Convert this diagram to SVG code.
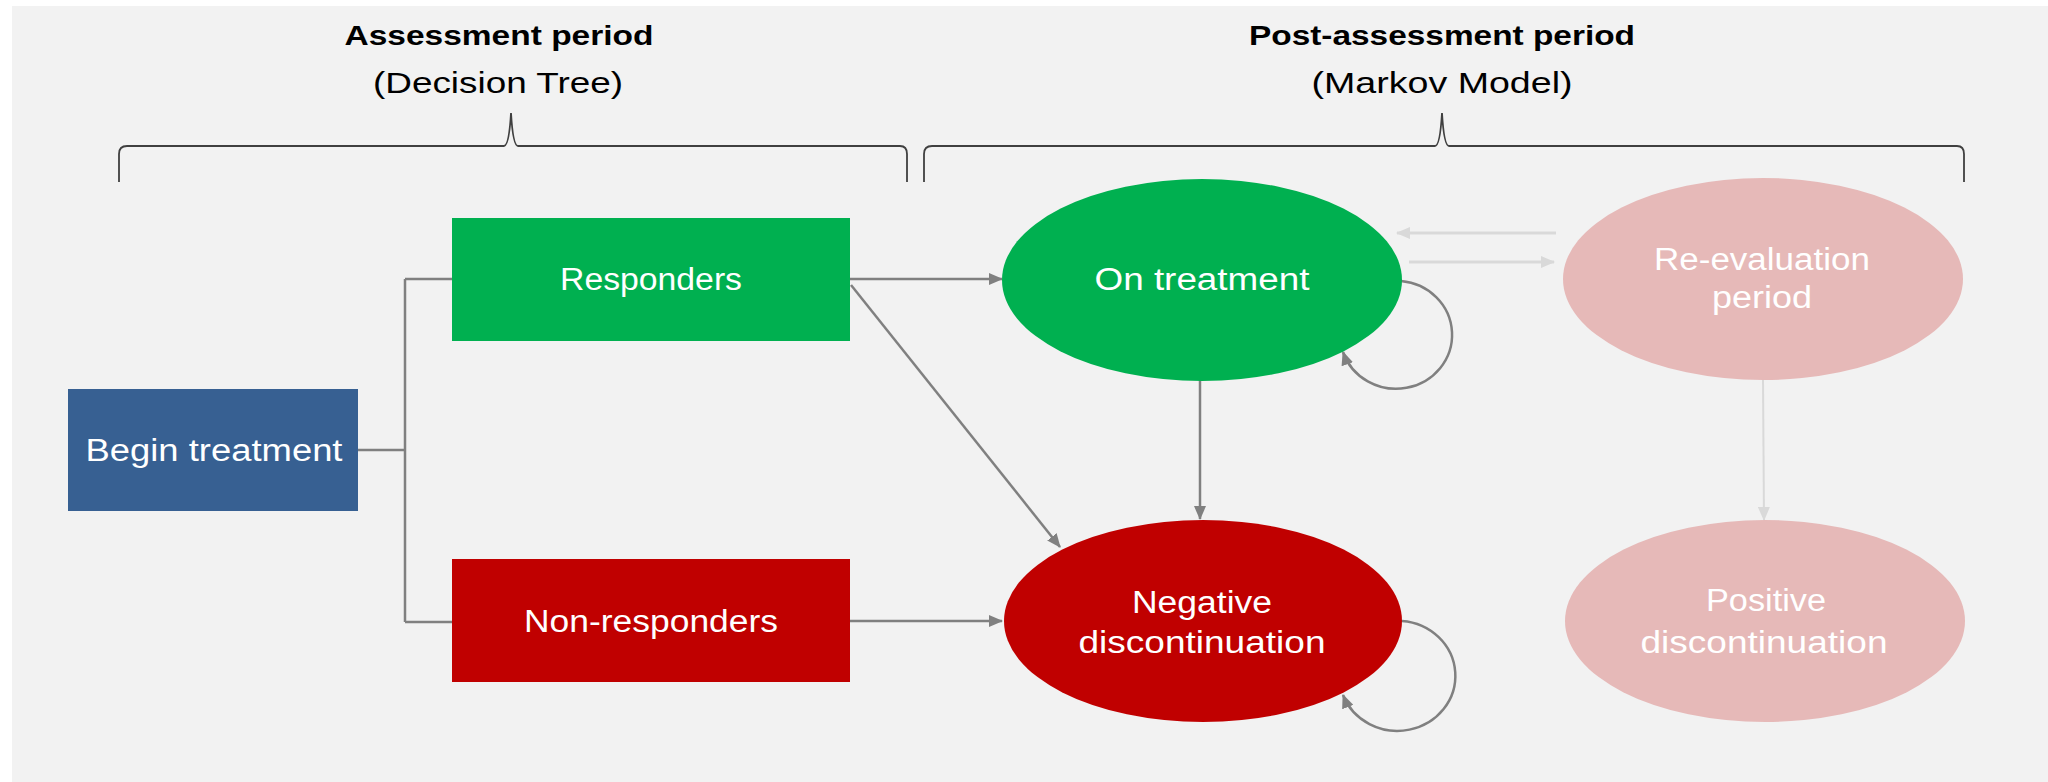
<svg xmlns="http://www.w3.org/2000/svg" width="2048" height="782" viewBox="0 0 2048 782">
<defs>
<style>
.t{font-family:"Liberation Sans",Arial,sans-serif;fill:#ffffff;font-size:31px;text-anchor:middle}
.h{font-family:"Liberation Sans",Arial,sans-serif;fill:#000;text-anchor:middle}
.c{fill:none;stroke:#808080;stroke-width:2.5}
.cl{fill:none;stroke:#d9d9d9;stroke-width:3}
.br{fill:none;stroke:#404040;stroke-width:1.8}
</style>
<marker id="ah" markerUnits="userSpaceOnUse" markerWidth="14" markerHeight="12" refX="13" refY="6" orient="auto"><path d="M0,0 L14,6 L0,12 Z" fill="#808080"/></marker>
<marker id="al" markerUnits="userSpaceOnUse" markerWidth="14" markerHeight="12" refX="13" refY="6" orient="auto"><path d="M0,0 L14,6 L0,12 Z" fill="#d9d9d9"/></marker>
</defs>
<rect x="12" y="6" width="2036" height="776" fill="#f2f2f2"/>

<g id="headers">
<text class="h" x="499" y="45" font-size="28" font-weight="bold" textLength="309" lengthAdjust="spacingAndGlyphs">Assessment period</text>
<text class="h" x="498" y="93" font-size="29" textLength="250" lengthAdjust="spacingAndGlyphs">(Decision Tree)</text>
<text class="h" x="1442" y="45" font-size="28" font-weight="bold" textLength="386" lengthAdjust="spacingAndGlyphs">Post-assessment period</text>
<text class="h" x="1442" y="93" font-size="29" textLength="261" lengthAdjust="spacingAndGlyphs">(Markov Model)</text>
<path class="br" d="M119,182 L119,154 Q119,146 127,146 L504,146 Q509,146 511,113 Q513,146 518,146 L900,146 Q907,146 907,154 L907,182"/>
<path class="br" d="M924,182 L924,154 Q924,146 932,146 L1435,146 Q1440,146 1442,113 Q1444,146 1449,146 L1957,146 Q1964,146 1964,154 L1964,182"/>
</g>

<g id="connectors">
<path class="c" d="M358,450 L405,450 M405,279 L405,622 M405,279 L452,279 M405,622 L452,622"/>
<path class="c" d="M850,279 L1002,279" marker-end="url(#ah)"/>
<path class="c" d="M851,285 L1060,547" marker-end="url(#ah)"/>
<path class="c" d="M1200,380 L1200,519" marker-end="url(#ah)"/>
<path class="c" d="M850,621 L1002,621" marker-end="url(#ah)"/>
<path class="c" d="M1401,281 A56,54 0 1 1 1343,352" marker-end="url(#ah)"/>
<path class="c" d="M1402,621 A58,55 0 1 1 1343,695" marker-end="url(#ah)"/>
<path class="cl" d="M1556,233 L1397,233" marker-end="url(#al)"/>
<path class="cl" d="M1409,262 L1554,262" marker-end="url(#al)"/>
<path class="cl" d="M1763,380 L1764,520" style="stroke-width:2" marker-end="url(#al)"/>
</g>

<g id="begin">
<rect x="68" y="389" width="290" height="122" fill="#376092"/>
<text class="t" x="214" y="461" textLength="257" lengthAdjust="spacingAndGlyphs">Begin treatment</text>
</g>
<g id="responders">
<rect x="452" y="218" width="398" height="123" fill="#00b050"/>
<text class="t" x="651" y="290" textLength="182" lengthAdjust="spacingAndGlyphs">Responders</text>
</g>
<g id="nonresponders">
<rect x="452" y="559" width="398" height="123" fill="#c00000"/>
<text class="t" x="651" y="632" textLength="254" lengthAdjust="spacingAndGlyphs">Non-responders</text>
</g>
<g id="ontreatment">
<ellipse cx="1202" cy="280" rx="200" ry="101" fill="#00b050"/>
<text class="t" x="1202" y="290" textLength="215" lengthAdjust="spacingAndGlyphs">On treatment</text>
</g>
<g id="negative">
<ellipse cx="1203" cy="621" rx="199" ry="101" fill="#c00000"/>
<text class="t" x="1202" y="613" textLength="140" lengthAdjust="spacingAndGlyphs">Negative</text>
<text class="t" x="1202" y="653" textLength="247" lengthAdjust="spacingAndGlyphs">discontinuation</text>
</g>
<g id="reevaluation">
<ellipse cx="1763" cy="279" rx="200" ry="101" fill="#e6b9b8"/>
<text class="t" x="1762" y="270" textLength="216" lengthAdjust="spacingAndGlyphs">Re-evaluation</text>
<text class="t" x="1762" y="308" textLength="100" lengthAdjust="spacingAndGlyphs">period</text>
</g>
<g id="positive">
<ellipse cx="1765" cy="621" rx="200" ry="101" fill="#e6b9b8"/>
<text class="t" x="1766" y="611" textLength="120" lengthAdjust="spacingAndGlyphs">Positive</text>
<text class="t" x="1764" y="653" textLength="247" lengthAdjust="spacingAndGlyphs">discontinuation</text>
</g>
</svg>
